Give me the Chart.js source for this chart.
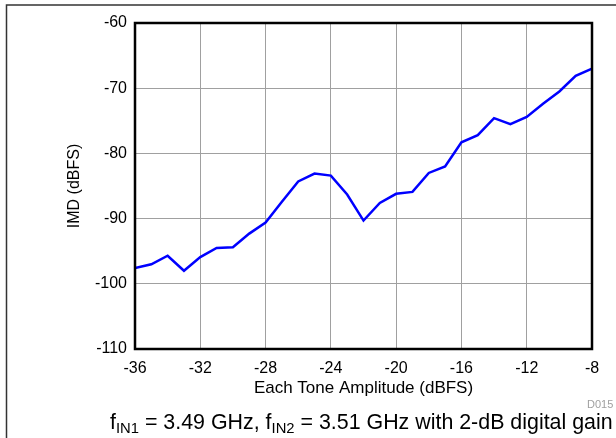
<!DOCTYPE html>
<html>
<head>
<meta charset="utf-8">
<script src="https://cdn.jsdelivr.net/npm/chart.js@4.4.1/dist/chart.umd.min.js"></script>
<style>
  html, body { margin: 0; padding: 0; background: #fff; }
  canvas { display: block; }
</style>
</head>
<body>
<canvas id="imd" width="616" height="438"></canvas>
<script>
// IMD vs each tone amplitude
const toneAmplitude = [-36, -35, -34, -33, -32, -31, -30, -29, -28, -27, -26, -25, -24, -23, -22,
  -21, -20, -19, -18, -17, -16, -15, -14, -13, -12, -11, -10, -9, -8];
const imdValues = [-97.6, -97.0, -95.7, -98.0, -95.9, -94.5, -94.4, -92.3, -90.6, -87.4, -84.3, -83.1, -83.4, -86.3, -90.3,
  -87.6, -86.2, -85.9, -83.0, -82.0, -78.3, -77.2, -74.6, -75.5, -74.4, -72.4, -70.5, -68.1, -67.0];
const xTicks = [-36, -32, -28, -24, -20, -16, -12, -8];
const yTicks = [-110, -100, -90, -80, -70, -60];

const FONT = '"Liberation Sans", Arial, Helvetica, sans-serif';

// frame, plot border, figure id and the subtitle with subscripts
const decorations = {
  id: 'decorations',
  afterDraw(chart) {
    const ctx = chart.ctx;
    const a = chart.chartArea;
    ctx.save();

    // outer page frame
    ctx.strokeStyle = '#333';
    ctx.lineWidth = 1.5;
    ctx.beginPath();
    ctx.moveTo(616, 5);
    ctx.lineTo(6.5, 5);
    ctx.lineTo(6.5, 438);
    ctx.stroke();

    // plot border
    ctx.strokeStyle = '#000';
    ctx.lineWidth = 2.5;
    ctx.strokeRect(a.left, a.top, a.right - a.left, a.bottom - a.top);

    // figure id
    ctx.fillStyle = '#a0a0a0';
    ctx.font = '11px ' + FONT;
    ctx.textBaseline = 'middle';
    ctx.textAlign = 'left';
    ctx.fillText('D015', 587, 405);

    // subtitle
    const parts = [
      ['f', 0], ['IN1', 1], [' = 3.49 GHz, f', 0], ['IN2', 1], [' = 3.51 GHz with 2-dB digital gain', 0]
    ];
    const big = '21.4px ' + FONT, small = '14.8px ' + FONT;
    ctx.fillStyle = '#000';
    ctx.textBaseline = 'alphabetic';
    let x = 110;
    for (const [t, sub] of parts) {
      ctx.font = sub ? small : big;
      ctx.fillText(t, x, sub ? 433 : 428.5);
      x += ctx.measureText(t).width;
    }
    ctx.restore();
  }
};

new Chart(document.getElementById('imd'), {
  type: 'line',
  data: {
    datasets: [{
      data: toneAmplitude.map((v, i) => ({ x: v, y: imdValues[i] })),
      borderColor: '#0000ff',
      borderWidth: 2.5,
      pointRadius: 0,
      tension: 0,
      fill: false
    }]
  },
  options: {
    responsive: false,
    animation: false,
    events: [],
    layout: { padding: { left: 0, top: 23, right: 24, bottom: 39 } },
    plugins: { legend: { display: false }, tooltip: { enabled: false } },
    scales: {
      x: {
        type: 'linear',
        min: -36,
        max: -8,
        afterBuildTicks: s => { s.ticks = xTicks.map(v => ({ value: v })); },
        afterFit: s => { s.height = 50; },
        grid: { color: '#a0a0a0', lineWidth: 1, drawTicks: false },
        border: { display: false },
        ticks: { color: '#000', font: { family: FONT, size: 16 }, padding: 10, maxRotation: 0 },
        title: {
          display: true,
          text: 'Each Tone Amplitude (dBFS)',
          color: '#000',
          font: { family: FONT, size: 17 },
          padding: { top: 0, bottom: 0 }
        }
      },
      y: {
        min: -110,
        max: -60,
        afterBuildTicks: s => { s.ticks = yTicks.map(v => ({ value: v })); },
        afterFit: s => { s.width = 135; },
        grid: { color: '#a0a0a0', lineWidth: 1, drawTicks: false },
        border: { display: false },
        ticks: { color: '#000', font: { family: FONT, size: 16 }, padding: 8 },
        title: {
          display: true,
          text: 'IMD (dBFS)',
          color: '#000',
          font: { family: FONT, size: 16 },
          padding: { top: 65, bottom: 0 }
        }
      }
    }
  },
  plugins: [decorations]
});
</script>
</body>
</html>
